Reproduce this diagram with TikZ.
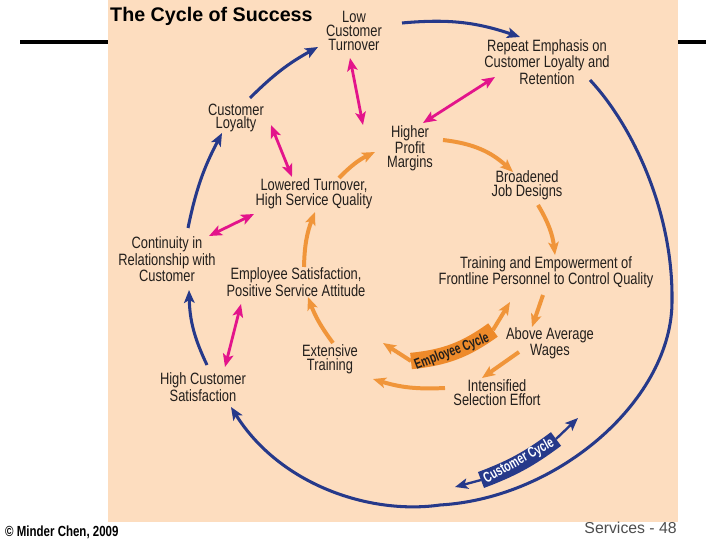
\documentclass[tikz,border=0pt]{standalone}
\usepackage{fontspec}
\setmainfont{Liberation Sans}[FakeStretch=0.785]
\newfontfamily\arialfont{Liberation Sans}
\newfontfamily\tagfont{Liberation Sans}[FakeStretch=0.7]
\usetikzlibrary{arrows.meta,calc}
\definecolor{ink}{HTML}{231F1C}
\definecolor{paper}{HTML}{FDDDBF}
\definecolor{navy}{HTML}{26398A}
\definecolor{pink}{HTML}{E3148B}
\definecolor{amber}{HTML}{F0953A}
\definecolor{eband}{HTML}{EE8A2A}
\definecolor{grey}{HTML}{4D4D4D}

\begin{document}
\begin{tikzpicture}[x=0.03cm, y=0.03cm,
    font=\fontsize{14}{11.9}\selectfont, text=ink,
    >={Stealth[length=11pt,width=9pt,inset=2.5pt]},
    lbl/.style={align=center, inner sep=0pt},
    cust/.style={->, line width=2.6pt, draw=navy},
    link/.style={<->, line width=2.4pt, draw=pink},
    emp/.style={->, line width=3.4pt, draw=amber},
    ribbon/.style={line width=#1, line cap=butt},
    tag/.style={font=\tagfont\bfseries\fontsize{12.5}{12}\selectfont, inner sep=0pt},
  ]

  % ---- slide
  \useasboundingbox (0,0) rectangle (720,-540);
  \draw[line width=2.6pt] (20,-42) -- (706,-42);
  \fill[paper] (108,0) rectangle (678,-522);
  \node[font=\arialfont\bfseries\fontsize{16.8}{18}\selectfont, text=black, anchor=base west, inner sep=0pt]
        (title) at (110,-22) {The Cycle of Success};
  \node[font=\bfseries\fontsize{12.5}{12}\selectfont, text=black, anchor=base west, inner sep=0pt]
        (credit) at (5,-536) {© Minder Chen, 2009};
  \node[font=\arialfont\fontsize{13.5}{14}\selectfont, text=grey, anchor=base east, inner sep=0pt]
        (page) at (677,-533) {Services - 48};

  % ---- customer cycle stages
  \node[lbl] (low) at (354,-31) {Low\\Customer\\Turnover};
  \node[lbl] (retain) at (547,-62) {Repeat Emphasis on\\Customer Loyalty and\\Retention};
  \node[lbl] (loyalty) at (236,-118) {Customer\\Loyalty};
  \node[lbl] (continuity) at (167,-259) {Continuity in\\Relationship with\\Customer};
  \node[lbl] (custsat) at (203,-387) {High Customer\\Satisfaction};

  % ---- employee cycle stages
  \node[lbl] (profit) at (410,-148) {Higher\\Profit\\Margins};
  \node[lbl] (jobs) at (527,-185) {Broadened\\Job Designs};
  \node[lbl] (lowered) at (314,-194) {Lowered Turnover,\\High Service Quality};
  \node[lbl] (empower) at (546,-272) {Training and Empowerment of\\Frontline Personnel to Control Quality};
  \node[lbl] (empsat) at (296,-282) {Employee Satisfaction,\\Positive Service Attitude};
  \node[lbl] (wages) at (550,-343) {Above Average\\Wages};
  \node[lbl] (training) at (330,-359) {Extensive\\Training};
  \node[lbl] (selection) at (497,-393) {Intensified\\Selection Effort};

  % ---- outer loop (customer)
  \coordinate (rim) at (672,-300);
  \coordinate (base) at (440,-505);
  \draw[cust] ($(loyalty)+(14,20)$) to[bend left=8] ($(low)+(-36,-16)$);
  \draw[cust] ($(low)+(48,8)$) to[bend left=12] ($(retain)+(-27,25)$);
  \draw[cust] ($(retain)+(43,-18)$) .. controls (633,-126) and (673,-212) .. (rim)
        .. controls (673,-398) and (560,-498) .. (base)
        .. controls (370,-515) and (280,-485) .. ($(custsat)+(28,-20)$);
  \draw[cust] ($(custsat)+(4,22)$) to[bend left=12] ($(continuity)+(22,-31)$);
  \draw[cust] ($(continuity)+(21,31)$) to[bend left=8] ($(loyalty)+(-14,-15)$);

  % links between the two loops
  \draw[link] ($(low)+(-4,-27)$) -- ($(profit)+(-47,23)$);
  \draw[link] ($(retain)+(-52,-15)$) -- ($(profit)+(13,25)$);
  \draw[link] ($(loyalty)+(35,-7)$) -- ($(lowered)+(-22,17)$);
  \draw[link] ($(continuity)+(42,23)$) -- ($(lowered)+(-60,-20)$);
  \draw[link] ($(empsat)+(-55,-22)$) -- ($(custsat)+(22,20)$);

  % ---- inner loop (employee)
  \draw[emp] ($(lowered)+(25,16)$) to[bend left=10] ($(profit)+(-35,-4)$);
  \draw[emp] ($(profit)+(33,8)$) to[bend left=18] ($(jobs)+(-14,13)$);
  \draw[emp] ($(jobs)+(11,-20)$) to[bend left=12] ($(empower)+(9,17)$);
  \draw[emp] ($(empower)+(-3,-23)$) -- ($(wages)+(-18,16)$);
  \draw[emp] ($(wages)+(-31,-9)$) -- ($(selection)+(-15,15)$);
  \draw[emp] ($(selection)+(-52,5)$) to[bend left=10] ($(training)+(43,-20)$);
  \draw[emp] ($(training)+(3,16)$) to[bend left=8] ($(empsat)+(12,-15)$);
  \draw[emp] ($(empsat)+(8,15)$) to[bend left=10] ($(lowered)+(1,-18)$);

  % ---- cycle banners
  \coordinate (ecl) at (411,-361);
  \coordinate (ecr) at (493,-330);
  \coordinate (ecin) at (383,-343);
  \coordinate (ecout) at (510,-302);
  \draw[emp] (ecl) -- (ecin);
  \draw[emp] (ecr) -- (ecout);
  \draw[draw=eband, ribbon=14pt] (ecl) to[bend right=15] (ecr);
  \node[tag, rotate=21, text=ink] (ectag) at (452,-352) {Employee Cycle};

  \coordinate (ccl) at (481,-480);
  \coordinate (ccr) at (556,-439);
  \coordinate (ccin) at (455,-487);
  \coordinate (ccout) at (578,-418);
  \draw[cust, line width=2pt] (ccl) -- (ccin);
  \draw[cust, line width=2pt] (ccr) -- (ccout);
  \draw[draw=navy, ribbon=14.5pt] (ccl) to[bend right=8] (ccr);
  \node[tag, rotate=29, text=white] (cctag) at (519,-461) {Customer Cycle};
\end{tikzpicture}
\end{document}
